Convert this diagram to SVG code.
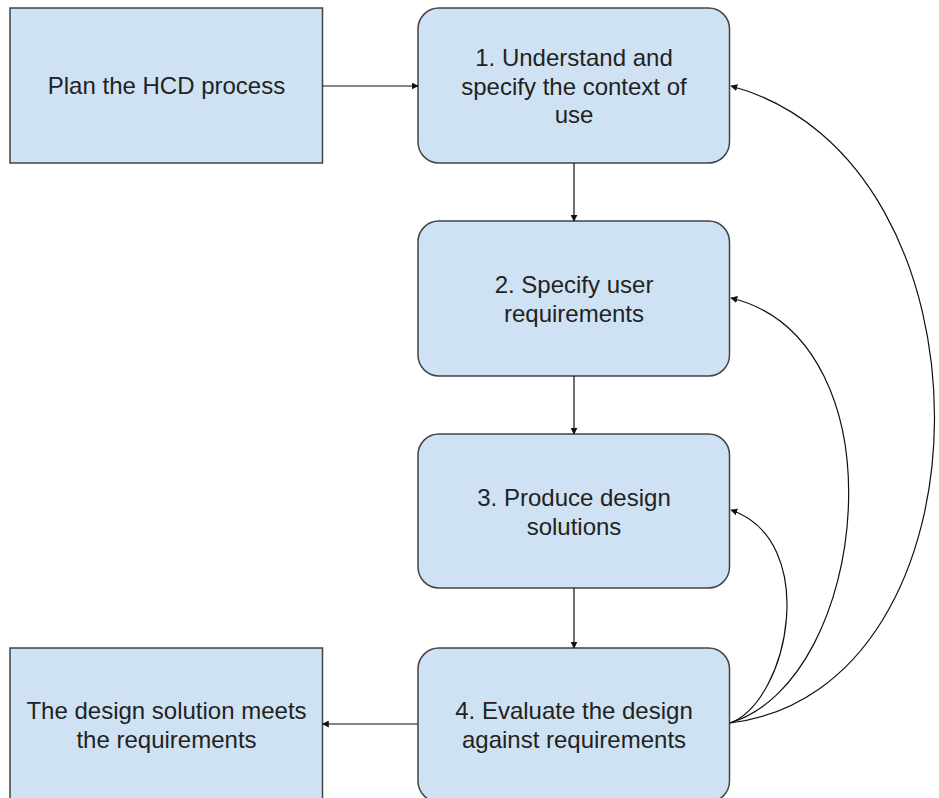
<svg xmlns="http://www.w3.org/2000/svg" width="939" height="798" viewBox="0 0 939 798">
<defs>
<style>
.box{fill:#cfe2f3;stroke:#434343;stroke-width:1.5}
.t{font-family:"Liberation Sans",Arial,sans-serif;font-size:24px;fill:#222;text-anchor:middle}
.c{fill:none;stroke:#111;stroke-width:1.2}
</style>
<marker id="ah" viewBox="0 0 10 10" refX="9" refY="5" markerWidth="7" markerHeight="7" markerUnits="userSpaceOnUse" orient="auto">
<path d="M0,0 L10,5 L0,10 z" fill="#111"/>
</marker>
</defs>
<rect width="939" height="798" fill="#fff"/>
<g id="plan">
<rect class="box" x="10" y="8" width="312.5" height="155"/>
<text class="t" x="166.5" y="94">Plan the HCD process</text>
</g>
<g id="n1">
<rect class="box" x="418" y="8" width="311.5" height="155" rx="21"/>
<text class="t" x="574" y="66">1. Understand and</text>
<text class="t" x="574" y="94.5">specify the context of</text>
<text class="t" x="574" y="123">use</text>
</g>
<g id="n2">
<rect class="box" x="418" y="221" width="311.5" height="155" rx="21"/>
<text class="t" x="574" y="293">2. Specify user</text>
<text class="t" x="574" y="321.5">requirements</text>
</g>
<g id="n3">
<rect class="box" x="418" y="434" width="311.5" height="154" rx="21"/>
<text class="t" x="574" y="506">3. Produce design</text>
<text class="t" x="574" y="534.5">solutions</text>
</g>
<g id="n4">
<rect class="box" x="418" y="648" width="311.5" height="154" rx="21"/>
<text class="t" x="574" y="719">4. Evaluate the design</text>
<text class="t" x="574" y="747.5">against requirements</text>
</g>
<g id="done">
<rect class="box" x="10" y="648" width="312.5" height="160"/>
<text class="t" x="166.5" y="719">The design solution meets</text>
<text class="t" x="166.5" y="748">the requirements</text>
</g>
<g id="connectors">
<path class="c" d="M322.5,86 L418,86" marker-end="url(#ah)"/>
<path class="c" d="M574,163 L574,221" marker-end="url(#ah)"/>
<path class="c" d="M574,376 L574,434" marker-end="url(#ah)"/>
<path class="c" d="M574,588 L574,648" marker-end="url(#ah)"/>
<path class="c" d="M418,724 L322.5,724" marker-end="url(#ah)"/>
<path class="c" d="M730,723 C790,700 820,540 731,510" marker-end="url(#ah)"/>
<path class="c" d="M730,723 C870,680 905,340 731,298" marker-end="url(#ah)"/>
<path class="c" d="M730,723 C1000,690 1005,160 731,86" marker-end="url(#ah)"/>
</g>
</svg>
